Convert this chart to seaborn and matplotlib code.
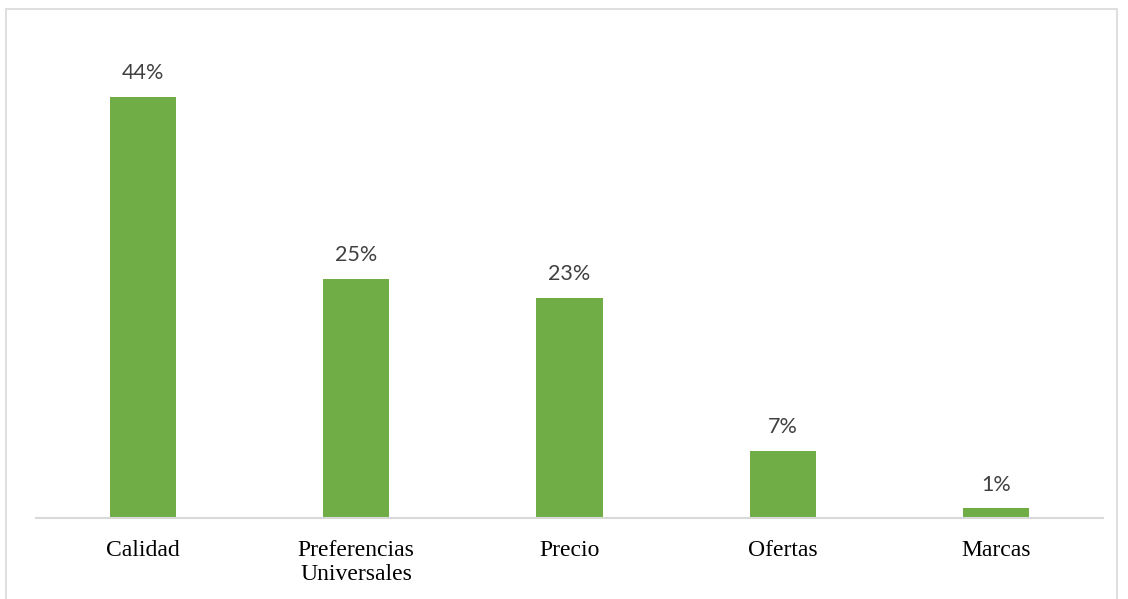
import matplotlib
matplotlib.use("Agg")
import matplotlib.pyplot as plt
from matplotlib.patches import Rectangle
import pandas as pd
import seaborn as sns

categories = ["Calidad", "Preferencias\nUniversales", "Precio", "Ofertas", "Marcas"]
percentages = [44, 25, 23, 7, 1]

df = pd.DataFrame({"factor": categories, "pct": percentages})

sns.set_theme(style="white")

W, H = 1128, 599
fig = plt.figure(figsize=(W / 100, H / 100), dpi=100)
# axes placed in pixel terms: left 36, right 1103, top 20, bottom 518
ax = fig.add_axes([36 / W, 1 - 518 / H, (1103 - 36) / W, (518 - 20) / H])

sns.barplot(data=df, x="factor", y="pct", color="#70AD47", width=0.31,
            saturation=1, edgecolor="none", ax=ax)

ax.set_ylim(0, 52)
ax.set_xlim(-0.5, len(categories) - 0.5)
ax.set_xlabel("")
ax.set_ylabel("")
ax.set_yticks([])
for side in ["top", "right", "left"]:
    ax.spines[side].set_visible(False)
ax.spines["bottom"].set_color("#D9D9D9")
ax.spines["bottom"].set_linewidth(1.5)

ax.set_xticks(range(len(categories)))
ax.set_xticklabels(categories, fontfamily="Liberation Serif", fontsize=17,
                   color="black", linespacing=1.2)
ax.tick_params(axis="x", length=0, pad=16)

ax.bar_label(ax.containers[0], labels=[f"{v}%" for v in percentages],
             padding=10, fontsize=15.5, color="#404040", family="Lato")

# outer chart frame
fig.patches.append(Rectangle((6, -20), 1111, H - 9 + 20, transform=None,
                             fill=False, edgecolor="#D9D9D9", linewidth=1.2))

fig.savefig("out.png", dpi=100, facecolor="white")
